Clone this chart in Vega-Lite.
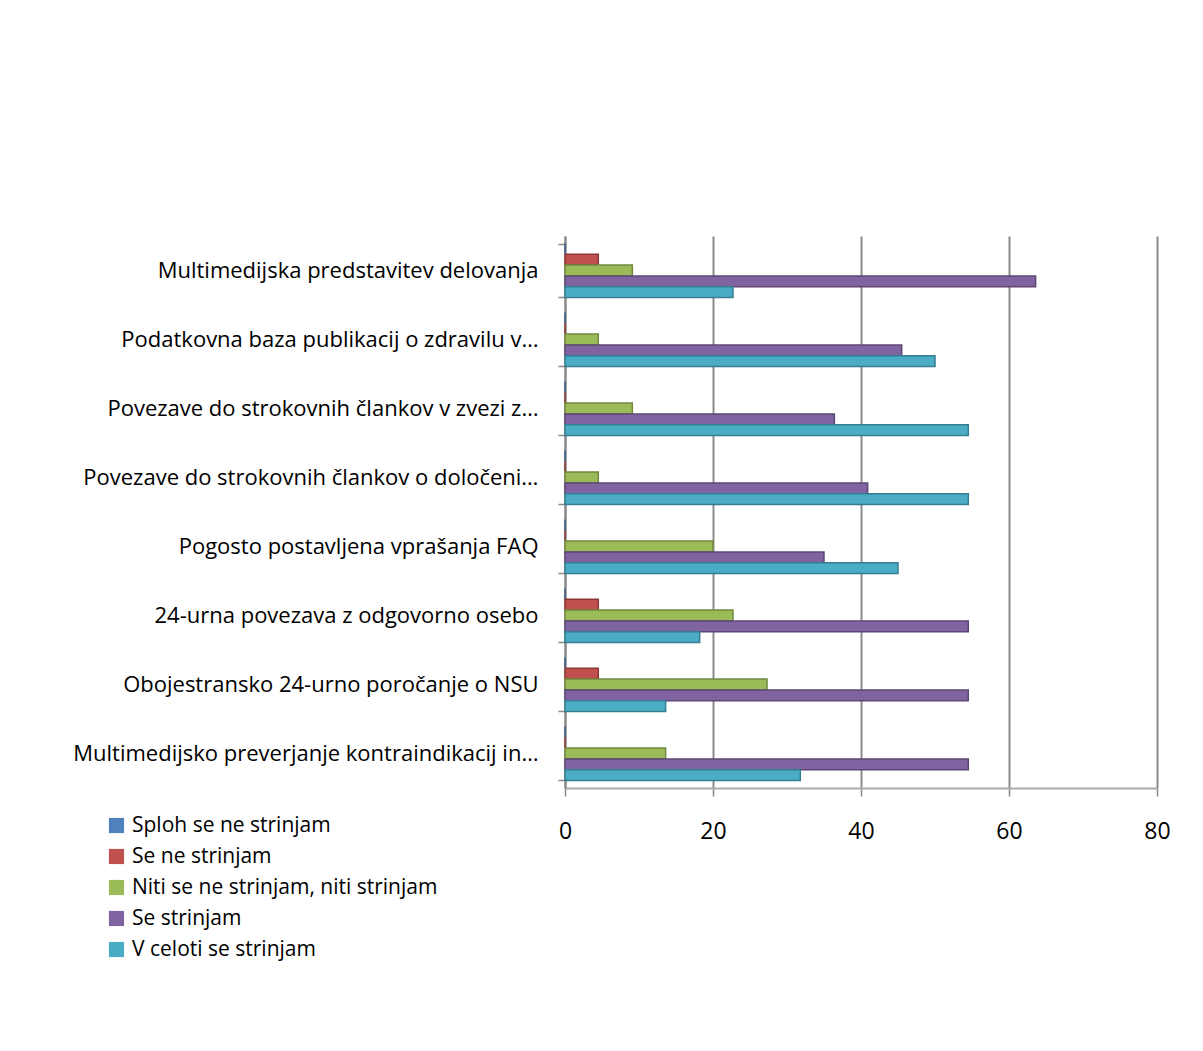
{
  "$schema": "https://vega.github.io/schema/vega-lite/v6.json",
  "autosize": {"type": "none"},
  "width": 592,
  "height": 552,
  "padding": {"left": 565, "top": 236, "right": 46, "bottom": 263},
  "background": "white",
  "data": {
    "values": [
      {"item": "Multimedijska predstavitev delovanja", "answer": "Sploh se ne strinjam", "pct": 0},
      {"item": "Multimedijska predstavitev delovanja", "answer": "Se ne strinjam", "pct": 4.5},
      {"item": "Multimedijska predstavitev delovanja", "answer": "Niti se ne strinjam,  niti strinjam", "pct": 9.1},
      {"item": "Multimedijska predstavitev delovanja", "answer": "Se strinjam", "pct": 63.6},
      {"item": "Multimedijska predstavitev delovanja", "answer": "V celoti se strinjam", "pct": 22.7},

      {"item": "Podatkovna baza publikacij o zdravilu v…", "answer": "Sploh se ne strinjam", "pct": 0},
      {"item": "Podatkovna baza publikacij o zdravilu v…", "answer": "Se ne strinjam", "pct": 0},
      {"item": "Podatkovna baza publikacij o zdravilu v…", "answer": "Niti se ne strinjam,  niti strinjam", "pct": 4.5},
      {"item": "Podatkovna baza publikacij o zdravilu v…", "answer": "Se strinjam", "pct": 45.5},
      {"item": "Podatkovna baza publikacij o zdravilu v…", "answer": "V celoti se strinjam", "pct": 50},

      {"item": "Povezave do strokovnih člankov v zvezi z…", "answer": "Sploh se ne strinjam", "pct": 0},
      {"item": "Povezave do strokovnih člankov v zvezi z…", "answer": "Se ne strinjam", "pct": 0},
      {"item": "Povezave do strokovnih člankov v zvezi z…", "answer": "Niti se ne strinjam,  niti strinjam", "pct": 9.1},
      {"item": "Povezave do strokovnih člankov v zvezi z…", "answer": "Se strinjam", "pct": 36.4},
      {"item": "Povezave do strokovnih člankov v zvezi z…", "answer": "V celoti se strinjam", "pct": 54.5},

      {"item": "Povezave do strokovnih člankov o določeni…", "answer": "Sploh se ne strinjam", "pct": 0},
      {"item": "Povezave do strokovnih člankov o določeni…", "answer": "Se ne strinjam", "pct": 0},
      {"item": "Povezave do strokovnih člankov o določeni…", "answer": "Niti se ne strinjam,  niti strinjam", "pct": 4.5},
      {"item": "Povezave do strokovnih člankov o določeni…", "answer": "Se strinjam", "pct": 40.9},
      {"item": "Povezave do strokovnih člankov o določeni…", "answer": "V celoti se strinjam", "pct": 54.5},

      {"item": "Pogosto postavljena vprašanja  FAQ", "answer": "Sploh se ne strinjam", "pct": 0},
      {"item": "Pogosto postavljena vprašanja  FAQ", "answer": "Se ne strinjam", "pct": 0},
      {"item": "Pogosto postavljena vprašanja  FAQ", "answer": "Niti se ne strinjam,  niti strinjam", "pct": 20},
      {"item": "Pogosto postavljena vprašanja  FAQ", "answer": "Se strinjam", "pct": 35},
      {"item": "Pogosto postavljena vprašanja  FAQ", "answer": "V celoti se strinjam", "pct": 45},

      {"item": "24-urna povezava z odgovorno osebo", "answer": "Sploh se ne strinjam", "pct": 0},
      {"item": "24-urna povezava z odgovorno osebo", "answer": "Se ne strinjam", "pct": 4.5},
      {"item": "24-urna povezava z odgovorno osebo", "answer": "Niti se ne strinjam,  niti strinjam", "pct": 22.7},
      {"item": "24-urna povezava z odgovorno osebo", "answer": "Se strinjam", "pct": 54.5},
      {"item": "24-urna povezava z odgovorno osebo", "answer": "V celoti se strinjam", "pct": 18.2},

      {"item": "Obojestransko 24-urno poročanje o NSU", "answer": "Sploh se ne strinjam", "pct": 0},
      {"item": "Obojestransko 24-urno poročanje o NSU", "answer": "Se ne strinjam", "pct": 4.5},
      {"item": "Obojestransko 24-urno poročanje o NSU", "answer": "Niti se ne strinjam,  niti strinjam", "pct": 27.3},
      {"item": "Obojestransko 24-urno poročanje o NSU", "answer": "Se strinjam", "pct": 54.5},
      {"item": "Obojestransko 24-urno poročanje o NSU", "answer": "V celoti se strinjam", "pct": 13.6},

      {"item": "Multimedijsko preverjanje kontraindikacij in…", "answer": "Sploh se ne strinjam", "pct": 0},
      {"item": "Multimedijsko preverjanje kontraindikacij in…", "answer": "Se ne strinjam", "pct": 0},
      {"item": "Multimedijsko preverjanje kontraindikacij in…", "answer": "Niti se ne strinjam,  niti strinjam", "pct": 13.6},
      {"item": "Multimedijsko preverjanje kontraindikacij in…", "answer": "Se strinjam", "pct": 54.5},
      {"item": "Multimedijsko preverjanje kontraindikacij in…", "answer": "V celoti se strinjam", "pct": 31.8}
    ]
  },
  "mark": {"type": "bar", "strokeWidth": 1.5},
  "encoding": {
    "y": {
      "field": "item",
      "type": "nominal",
      "sort": null,
      "scale": {"paddingInner": 0.22, "paddingOuter": 0.11},
      "axis": {
        "title": null,
        "labelFont": "Open Sans",
        "labelFontSize": 22,
        "labelColor": "#000000",
        "labelLimit": 600,
        "labelPadding": 20,
        "tickBand": "extent",
        "tickSize": 7,
        "tickColor": "#888888",
        "tickWidth": 1.5,
        "domainColor": "#888888",
        "domainWidth": 2
      }
    },
    "yOffset": {
      "field": "answer",
      "type": "nominal",
      "sort": null
    },
    "x": {
      "field": "pct",
      "type": "quantitative",
      "scale": {"domain": [0, 80], "nice": false},
      "axis": {
        "title": null,
        "values": [0, 20, 40, 60, 80],
        "labelFont": "Open Sans",
        "labelFontSize": 23,
        "labelColor": "#000000",
        "labelPadding": 24,
        "labelFlush": false,
        "tickSize": 8,
        "tickColor": "#888888",
        "tickWidth": 1.5,
        "domainColor": "#aaaaaa",
        "domainWidth": 2,
        "grid": true,
        "gridColor": "#8c8c8c",
        "gridWidth": 2
      }
    },
    "color": {
      "field": "answer",
      "type": "nominal",
      "sort": null,
      "scale": {
        "domain": ["Sploh se ne strinjam", "Se ne strinjam", "Niti se ne strinjam,  niti strinjam", "Se strinjam", "V celoti se strinjam"],
        "range": ["#4F81BD", "#C0504D", "#9BBB59", "#8064A2", "#4BACC6"]
      },
      "legend": {
        "title": null,
        "orient": "none",
        "legendX": -459,
        "legendY": 579,
        "symbolType": "square",
        "symbolSize": 230,
        "symbolStrokeWidth": 0,
        "labelFont": "Open Sans",
        "labelFontSize": 21,
        "labelColor": "#000000",
        "labelOffset": 5,
        "rowPadding": 9,
        "labelLimit": 500
      }
    },
    "stroke": {
      "field": "answer",
      "type": "nominal",
      "sort": null,
      "scale": {
        "domain": ["Sploh se ne strinjam", "Se ne strinjam", "Niti se ne strinjam,  niti strinjam", "Se strinjam", "V celoti se strinjam"],
        "range": ["#385D8A", "#8C3836", "#71893F", "#5C4776", "#357D91"]
      },
      "legend": null
    }
  },
  "config": {
    "view": {"stroke": null},
    "axis": {"labelFont": "Open Sans"}
  }
}
